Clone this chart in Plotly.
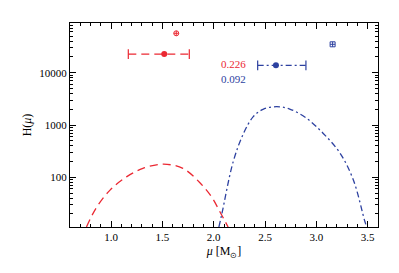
import plotly.graph_objects as go
import numpy as np

# ---- data ----
red_curve_mu = [0.76, 0.85, 0.99, 1.15, 1.31, 1.51, 1.70, 1.87, 1.98, 2.06, 2.14]
red_curve_H = [11.2, 25, 57, 102, 148, 178, 148, 77, 42, 22, 11.2]

blue_curve_mu = [2.05, 2.08, 2.19, 2.29, 2.385, 2.48, 2.61, 2.74, 2.905, 3.067, 3.23, 3.36, 3.47, 3.49]
blue_curve_H = [11.2, 20.4, 200, 690, 1445, 1995, 2240, 2020, 1340, 690, 290, 89, 14.8, 11.2]

red_point_mu = 1.518
red_point_H = 22700
red_err_lo = 1.168
red_err_hi = 1.762
red_open_mu = 1.635
red_open_H = 56600

blue_point_mu = 2.606
blue_point_H = 13840
blue_err_lo = 2.428
blue_err_hi = 2.898
blue_open_mu = 3.158
blue_open_H = 34900

labels = ["0.226", "0.092"]

RED = "rgb(235,40,50)"
BLUE = "rgb(45,65,160)"
FONT = "Liberation Serif"

fig = go.Figure()

fig.add_trace(go.Scatter(x=red_curve_mu, y=red_curve_H, mode="lines",
                         line=dict(color=RED, width=1.3, dash="8px,5px", shape="spline"),
                         showlegend=False))
fig.add_trace(go.Scatter(x=blue_curve_mu, y=blue_curve_H, mode="lines",
                         line=dict(color=BLUE, width=1.3, dash="6px,3px,2px,3px", shape="spline"),
                         showlegend=False))

# error bars
fig.add_trace(go.Scatter(x=[red_err_lo, red_err_hi], y=[red_point_H, red_point_H], mode="lines+markers",
                         line=dict(color=RED, width=1.2, dash="8px,5px"),
                         marker=dict(symbol="line-ns", size=7, line=dict(color=RED, width=1.2)),
                         showlegend=False))
fig.add_trace(go.Scatter(x=[red_point_mu], y=[red_point_H], mode="markers",
                         marker=dict(symbol="circle", size=6, color=RED), showlegend=False))
fig.add_trace(go.Scatter(x=[red_open_mu], y=[red_open_H], mode="markers",
                         marker=dict(symbol="circle-cross-open", size=5, color=RED,
                                     line=dict(color=RED, width=1)), showlegend=False))

fig.add_trace(go.Scatter(x=[blue_err_lo, blue_err_hi], y=[blue_point_H, blue_point_H], mode="lines+markers",
                         line=dict(color=BLUE, width=1.2, dash="6px,3px,2px,3px"),
                         marker=dict(symbol="line-ns", size=7, line=dict(color=BLUE, width=1.2)),
                         showlegend=False))
fig.add_trace(go.Scatter(x=[blue_point_mu], y=[blue_point_H], mode="markers",
                         marker=dict(symbol="circle", size=6, color=BLUE), showlegend=False))
fig.add_trace(go.Scatter(x=[blue_open_mu], y=[blue_open_H], mode="markers",
                         marker=dict(symbol="square-cross-open", size=5, color=BLUE,
                                     line=dict(color=BLUE, width=1)), showlegend=False))

fig.add_annotation(x=2.05, y=np.log10(14500), text=labels[0], showarrow=False,
                   xanchor="left", yanchor="middle", font=dict(family=FONT, size=11, color=RED))
fig.add_annotation(x=2.05, y=np.log10(7700), text=labels[1], showarrow=False,
                   xanchor="left", yanchor="middle", font=dict(family=FONT, size=11, color=BLUE))

minor_y = [m * 10 ** e for e in range(1, 5) for m in range(2, 10)]

fig.update_xaxes(range=[0.6, 3.6], tickvals=[1.0, 1.5, 2.0, 2.5, 3.0, 3.5],
                 ticktext=["1.0", "1.5", "2.0", "2.5", "3.0", "3.5"],
                 ticks="inside", ticklen=6, tickwidth=1, tickcolor="black",
                 minor=dict(tickvals=[round(0.6 + 0.1 * i, 2) for i in range(31)],
                            ticks="inside", ticklen=3, tickcolor="black", showgrid=False),
                 showline=True, linecolor="black", linewidth=1.3, mirror="ticks",
                 showgrid=False, zeroline=False, automargin=False,
                 tickfont=dict(family=FONT, size=11, color="black"),
                 title=dict(text="<i>μ</i> [M<sub>⊙</sub>]", font=dict(family=FONT, size=12, color="black"),
                            standoff=4))
fig.update_yaxes(type="log", range=[1.05, 4.95], tickvals=[100, 1000, 10000],
                 ticktext=["100", "1000", "10000"],
                 ticks="inside", ticklen=6, tickwidth=1, tickcolor="black",
                 minor=dict(tickvals=minor_y, ticks="inside", ticklen=3, tickcolor="black", showgrid=False),
                 showline=True, linecolor="black", linewidth=1.3, mirror="ticks",
                 showgrid=False, zeroline=False, automargin=False,
                 tickfont=dict(family=FONT, size=11, color="black"),
                 title=dict(text="H(<i>μ</i>)", font=dict(family=FONT, size=12, color="black"), standoff=4))

fig.update_layout(width=399, height=273, margin=dict(l=70, r=21, t=23, b=46),
                  plot_bgcolor="white", paper_bgcolor="white", showlegend=False)

fig.write_html("out.html", config={"displayModeBar": False},
               post_script="document.body.style.margin='0';")
